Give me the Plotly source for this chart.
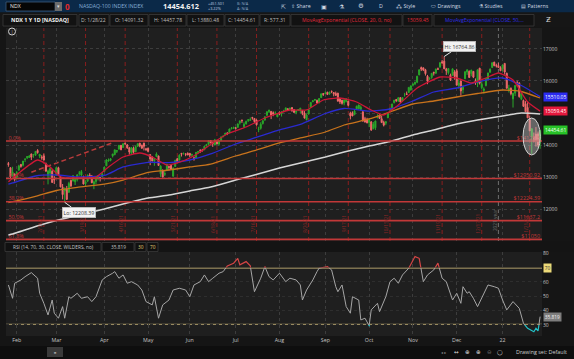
import plotly.graph_objects as go
import pandas as pd

W, H = 574, 359
FONT = "Open Sans"

# ---------------- data ----------------
holidays = ["2021-02-15", "2021-04-02", "2021-05-31", "2021-07-05", "2021-09-06",
            "2021-11-25", "2021-12-24", "2022-01-17"]
dates = [d.strftime("%Y-%m-%d") for d in pd.bdate_range("2021-01-26", "2022-01-28")
         if d.strftime("%Y-%m-%d") not in holidays]

opens = [
    13420, 13290, 13040, 13090,
    12980, 13220, 13390, 13370, 13550, 13600, 13610, 13720, 13700, 13680, 13830, 13650, 13620, 13660, 13410, 13040, 13120, 13180, 12950,
    13060, 13290, 13010, 12680, 12560, 12620, 12520, 12890, 12880, 12850, 12920, 13120, 13060, 13020, 12790, 12870, 13060, 13030, 12780, 12860, 12960, 12980, 13010,
    13170, 13350, 13500, 13520, 13660, 13700, 13800, 13870, 13990, 13920, 14060, 14000, 13910, 13740, 13900, 13790, 13960, 14060, 13990, 14060, 13880,
    13900, 13700, 13620, 13500, 13640, 13660, 13100, 13190, 13080, 13200, 13330, 13360, 13030, 13330, 13570, 13530, 13740, 13730, 13720, 13740,
    13740, 13680, 13600, 13600, 13760, 13830, 13840, 13850, 13980, 14030, 14140, 14080, 14000, 14100, 14030, 14140, 14260, 14320, 14380, 14380, 14510, 14520,
    14540, 14550, 14690, 14780, 14570, 14660, 14770, 14770, 14860, 14830, 14780, 14490, 14520, 14670, 14780, 14930, 15040, 15050, 15010, 14990, 14880,
    15020, 14980, 15040, 15080, 15130, 15120, 15170, 15110, 15020, 15090, 15080, 15080, 15000, 14790, 14970, 15170, 15350, 15400, 15390, 15320, 15480, 15610,
    15610, 15650, 15590, 15680, 15640, 15610, 15620, 15450, 15400, 15310, 15360, 15370, 14990, 15010, 14950, 15130, 15130, 15110, 15040, 14820, 14800,
    14700, 14720, 14510, 14540, 14850, 14940, 14820, 14710, 14680, 14850, 15100, 15110, 15320, 15420, 15370, 15480, 15380, 15560, 15600, 15640, 15720,
    15870, 15910, 15960, 16190, 16420, 16410, 16350, 16150, 16060, 16110, 16270, 16240, 16380, 16440, 16600, 16620, 16370, 16260, 16180, 16180, 16280,
    16320, 15860, 16000, 15730, 16070, 16280, 16300, 16230, 16300, 15990, 15930, 16400, 15790, 15700, 15860, 16060, 16270, 16420, 16590, 16480, 16480, 16420,
    16380, 16550, 16240, 15720, 15770, 15440, 15620, 15950, 15940, 15430, 15390, 15290, 15170, 14790, 14260, 14260, 14340, 14350, 14091.32,
]
highs = [
    13470, 13300, 13320, 13110,
    13190, 13380, 13410, 13500, 13580, 13650, 13690, 13730, 13720, 13810, 13870, 13720, 13680, 13730, 13450, 13230, 13280, 13240, 13030,
    13300, 13320, 13040, 12780, 12670, 12720, 12850, 12920, 13060, 12940, 13070, 13190, 13220, 13040, 12900, 13080, 13120, 13060, 12890, 13010, 13060, 13000, 13150,
    13320, 13560, 13580, 13590, 13720, 13850, 13840, 14000, 14000, 14050, 14070, 14030, 13940, 13930, 13950, 13990, 14050, 14060, 14010, 14070, 13910,
    13920, 13700, 13650, 13590, 13770, 13660, 13370, 13240, 13190, 13410, 13340, 13390, 13300, 13540, 13600, 13710, 13750, 13760, 13740, 13770,
    13750, 13730, 13640, 13780, 13810, 13870, 13880, 13970, 14030, 14140, 14140, 14100, 14190, 14140, 14140, 14270, 14310, 14380, 14390, 14510, 14560, 14570,
    14560, 14670, 14770, 14790, 14710, 14760, 14800, 14860, 14880, 14840, 14800, 14570, 14710, 14770, 14900, 15050, 15100, 15060, 15050, 15050, 14990,
    15050, 15040, 15100, 15160, 15150, 15160, 15180, 15120, 15080, 15120, 15160, 15090, 15060, 14980, 15120, 15340, 15400, 15440, 15420, 15470, 15610, 15620,
    15680, 15660, 15670, 15700, 15650, 15670, 15630, 15460, 15410, 15420, 15460, 15380, 15040, 15050, 15120, 15230, 15260, 15240, 15050, 14880, 14850,
    14800, 14750, 14720, 14760, 14960, 14950, 14910, 14760, 14740, 15010, 15160, 15290, 15410, 15440, 15480, 15490, 15490, 15630, 15670, 15800, 15850,
    15930, 15980, 16160, 16360, 16450, 16420, 16380, 16190, 16120, 16250, 16290, 16390, 16420, 16590, 16660, 16764.86, 16410, 16400, 16230, 16390, 16340,
    16380, 16060, 16020, 15870, 16300, 16360, 16330, 16350, 16310, 16080, 16360, 16410, 16000, 15800, 16090, 16260, 16390, 16580, 16600, 16540, 16560, 16460,
    16510, 16550, 16260, 15880, 15800, 15630, 15870, 16010, 15960, 15630, 15420, 15370, 15370, 14920, 14520, 14390, 14560, 14420, 14457.78,
]
lows = [
    13320, 12960, 13020, 12860,
    12940, 13190, 13290, 13330, 13470, 13560, 13600, 13530, 13600, 13660, 13730, 13590, 13540, 13520, 13170, 12770, 13000, 12820, 12780,
    13040, 13050, 12680, 12300, 12208.39, 12290, 12510, 12690, 12860, 12750, 12860, 13040, 12950, 12770, 12700, 12840, 12950, 12810, 12620, 12780, 12890, 12860, 13000,
    13160, 13340, 13480, 13490, 13610, 13680, 13750, 13860, 13840, 13910, 13990, 13880, 13700, 13730, 13720, 13780, 13940, 13930, 13880, 13830, 13810,
    13770, 13370, 13490, 13350, 13620, 13350, 13000, 12990, 13030, 13190, 13200, 13230, 12990, 13320, 13440, 13520, 13640, 13700, 13650, 13680,
    13620, 13630, 13510, 13600, 13720, 13750, 13800, 13840, 13950, 13990, 14050, 13940, 13990, 14020, 13980, 14120, 14240, 14310, 14310, 14370, 14490, 14500,
    14480, 14550, 14640, 14690, 14530, 14640, 14720, 14760, 14790, 14680, 14610, 14400, 14480, 14640, 14760, 14910, 15000, 14810, 14900, 14960, 14870,
    14930, 14890, 15030, 15060, 15060, 15090, 15040, 15000, 14960, 15060, 14990, 14930, 14830, 14770, 14960, 15170, 15340, 15380, 15300, 15300, 15480, 15530,
    15590, 15560, 15570, 15620, 15520, 15540, 15360, 15280, 15260, 15240, 15330, 15210, 14800, 14900, 14930, 15110, 15120, 15080, 14730, 14700, 14680,
    14560, 14440, 14490, 14470, 14840, 14820, 14700, 14580, 14620, 14840, 15060, 15100, 15300, 15340, 15360, 15320, 15360, 15510, 15570, 15640, 15700,
    15830, 15870, 15930, 16180, 16310, 16310, 16170, 15900, 16040, 16070, 16170, 16230, 16350, 16410, 16540, 16370, 16190, 16200, 16000, 16170, 16040,
    15860, 15760, 15540, 15610, 16060, 16190, 16100, 16150, 16090, 15880, 15810, 15890, 15740, 15610, 15830, 16030, 16270, 16410, 16460, 16420, 16410, 16310,
    16300, 16200, 15770, 15640, 15550, 15170, 15530, 15830, 15480, 15400, 15190, 15030, 14840, 14430, 13720, 14080, 13950, 13930, 13880.48,
]
closes = [
    13390, 13010, 13160, 12925,
    13140, 13340, 13330, 13500, 13560, 13640, 13650, 13620, 13700, 13800, 13760, 13710, 13600, 13530, 13180, 13190, 13270, 12830, 12910,
    13300, 13060, 12690, 12450, 12650, 12300, 12800, 12720, 13040, 12920, 13070, 13120, 13170, 12780, 12850, 13050, 12990, 12820, 12850, 12990, 13040, 12980, 13090,
    13310, 13530, 13530, 13570, 13720, 13850, 13830, 13990, 13850, 14040, 14040, 13910, 13780, 13920, 13770, 13950, 14040, 13970, 13900, 13960, 13860,
    13800, 13560, 13500, 13580, 13720, 13360, 13340, 13000, 13110, 13400, 13300, 13240, 13280, 13520, 13470, 13680, 13710, 13740, 13710, 13690,
    13680, 13700, 13560, 13770, 13800, 13820, 13820, 13960, 14020, 14140, 14070, 14040, 14160, 14030, 14140, 14250, 14270, 14370, 14360, 14500, 14530, 14550,
    14520, 14660, 14750, 14760, 14650, 14740, 14790, 14790, 14840, 14730, 14630, 14500, 14650, 14760, 14880, 15040, 15090, 14930, 14970, 15000, 14960,
    14960, 15040, 15070, 15160, 15100, 15150, 15070, 15020, 15070, 15110, 15150, 14990, 14840, 14940, 15110, 15330, 15380, 15420, 15310, 15450, 15600, 15580,
    15620, 15580, 15650, 15670, 15600, 15550, 15370, 15350, 15300, 15410, 15440, 15240, 14910, 14910, 15060, 15210, 15250, 15180, 14750, 14720, 14690,
    14790, 14470, 14650, 14750, 14890, 14830, 14700, 14620, 14730, 15000, 15150, 15280, 15400, 15390, 15480, 15340, 15480, 15560, 15580, 15800, 15850,
    15900, 15960, 16150, 16350, 16370, 16340, 16230, 15990, 16070, 16240, 16250, 16370, 16370, 16570, 16570, 16380, 16320, 16390, 16030, 16380, 16140,
    15870, 15940, 15690, 15810, 16290, 16350, 16110, 16340, 16120, 15960, 16350, 15930, 15900, 15750, 16080, 16250, 16370, 16570, 16480, 16470, 16420, 16320,
    16500, 16280, 15770, 15770, 15600, 15620, 15860, 15910, 15510, 15610, 15210, 15040, 14850, 14440, 14510, 14110, 14130, 14000, 14454.61,
]
assert len(dates) == len(opens) == len(highs) == len(lows) == len(closes)

# moving averages
ma_dates = ["2021-01-26", "2021-01-28", "2021-02-12", "2021-03-01", "2021-03-15", "2021-04-01", "2021-04-15",
            "2021-05-03", "2021-05-17", "2021-06-01", "2021-06-15", "2021-07-01", "2021-07-15", "2021-08-02",
            "2021-08-16", "2021-09-01", "2021-09-15", "2021-10-01", "2021-10-15", "2021-11-01", "2021-11-15",
            "2021-12-01", "2021-12-15", "2022-01-03", "2022-01-14", "2022-01-28"]
ema50 = [12780, 12813, 13031, 13063, 13000, 13047, 13313, 13459, 13447, 13531, 13719, 14031, 14219, 14469,
         14641, 14984, 15141, 15056, 15125, 15375, 15656, 15781, 15975, 16094, 15859, 15510.05]
ema100 = [12200, 12228, 12397, 12578, 12678, 12775, 12906, 13144, 13219, 13313, 13406, 13656, 13822, 14063,
          14219, 14406, 14625, 14813, 15031, 15281, 15375, 15500, 15609, 15719, 15672, 15469]
ema200 = [11190, 11219, 11453, 11641, 11797, 12000, 12156, 12344, 12438, 12563, 12688, 12906, 13063, 13281,
          13438, 13625, 13781, 13969, 14109, 14313, 14469, 14656, 14781, 14906, 15000, 14969]
ema20_dates = ["2021-01-26", "2021-01-28", "2021-02-02", "2021-02-16", "2021-02-24", "2021-03-03", "2021-03-12",
               "2021-03-26", "2021-04-06", "2021-04-15", "2021-04-27", "2021-05-05", "2021-05-14", "2021-05-21",
               "2021-06-01", "2021-06-08", "2021-06-16", "2021-06-28", "2021-07-09", "2021-07-22", "2021-08-09",
               "2021-08-19", "2021-08-31", "2021-09-13", "2021-09-23", "2021-10-04", "2021-10-12", "2021-10-21",
               "2021-11-03", "2021-11-18", "2021-12-01", "2021-12-10", "2021-12-21", "2021-12-30", "2022-01-10",
               "2022-01-20", "2022-01-28"]
ema20 = [12850, 12950, 13125, 13531, 13313, 13000, 12969, 13000, 13313, 13625, 13750, 13625, 13375, 13438,
         13594, 13781, 14063, 14375, 14563, 14844, 15094, 15094, 15406, 15469, 15344, 15094, 14938, 15250,
         15781, 16125, 16094, 15938, 16094, 16250, 16031, 15344, 15059.45]

rsi_dates = [
    "2021-01-26", "2021-01-28", "2021-01-29", "2021-02-03", "2021-02-05", "2021-02-10", "2021-02-16", "2021-02-17",
    "2021-02-19", "2021-02-23", "2021-02-25", "2021-02-26", "2021-03-02", "2021-03-04", "2021-03-05", "2021-03-09",
    "2021-03-10", "2021-03-15", "2021-03-17", "2021-03-22", "2021-03-24", "2021-03-26", "2021-03-31", "2021-04-05",
    "2021-04-08", "2021-04-09", "2021-04-13", "2021-04-15", "2021-04-19", "2021-04-21", "2021-04-26", "2021-04-28",
    "2021-04-30", "2021-05-05", "2021-05-06", "2021-05-10", "2021-05-12", "2021-05-17", "2021-05-19", "2021-05-24",
    "2021-05-27", "2021-06-01", "2021-06-03", "2021-06-08", "2021-06-10", "2021-06-14", "2021-06-16", "2021-06-21",
    "2021-06-23", "2021-06-25", "2021-06-30", "2021-07-02", "2021-07-06", "2021-07-09", "2021-07-13", "2021-07-15",
    "2021-07-20", "2021-07-22", "2021-07-26", "2021-07-28", "2021-08-02", "2021-08-05", "2021-08-09", "2021-08-12",
    "2021-08-16", "2021-08-17", "2021-08-19", "2021-08-24", "2021-08-26", "2021-08-27", "2021-09-02", "2021-09-07",
    "2021-09-09", "2021-09-10", "2021-09-14", "2021-09-16", "2021-09-20", "2021-09-21", "2021-09-24", "2021-09-27",
    "2021-09-29", "2021-10-01", "2021-10-04", "2021-10-07", "2021-10-08", "2021-10-13", "2021-10-15", "2021-10-19",
    "2021-10-21", "2021-10-25", "2021-10-28", "2021-11-02", "2021-11-04", "2021-11-08", "2021-11-10", "2021-11-15",
    "2021-11-17", "2021-11-19", "2021-11-23", "2021-11-29", "2021-12-01", "2021-12-03", "2021-12-06", "2021-12-08",
    "2021-12-09", "2021-12-13", "2021-12-15", "2021-12-20", "2021-12-22", "2021-12-28", "2021-12-30", "2022-01-03",
    "2022-01-05", "2022-01-10", "2022-01-13", "2022-01-18", "2022-01-20", "2022-01-25", "2022-01-26", "2022-01-27",
    "2022-01-28"]
rsi_vals = [
    57.9, 48.6, 59.1, 61.4, 63.7, 66.5, 62.6, 52.1,
    45.1, 37.0, 47.4, 38.2, 34.7, 42.8, 34.7, 49.7,
    48.6, 52.1, 48.6, 49.7, 46.3, 49.7, 61.4, 63.7,
    66.1, 67.2, 62.6, 64.9, 59.1, 60.2, 57.9, 54.4,
    46.3, 44.0, 49.7, 34.7, 44.0, 47.4, 54.4, 55.6,
    54.4, 49.7, 57.9, 60.2, 64.9, 60.2, 62.6, 66.1,
    67.2, 71.2, 73.1, 76.5, 71.9, 74.2, 71.2, 53.2,
    62.6, 70.7, 63.7, 61.4, 66.1, 60.2, 62.6, 61.4,
    57.9, 47.4, 54.4, 61.4, 67.2, 69.6, 70.7, 68.4,
    56.7, 53.2, 57.9, 42.8, 38.2, 49.7, 47.4, 33.5,
    34.7, 29.5, 40.5, 45.1, 39.3, 49.7, 60.2, 62.6,
    59.1, 64.9, 69.6, 77.7, 76.5, 60.2, 64.9, 68.4,
    73.1, 62.6, 60.2, 47.4, 52.1, 45.1, 56.7, 52.1,
    53.2, 48.6, 42.8, 52.1, 57.9, 56.7, 55.6, 47.4,
    40.5, 46.3, 41.6, 31.2, 27.7, 25.3, 27.7, 25.8,
    35.819]
assert len(rsi_dates) == len(rsi_vals)

fib_levels = [14125.3, 12950.92, 12224.39, 11637.2, 11050]
fib_pcts = ["0.0%", "23.6%", "38.2%", "50.0%", "61.8%"]
fib_tags = ["$14125.3", "$12950.92", "$12224.39", "$11637.2", "$11050"]

expiry_dates = ["2021-02-19", "2021-03-19", "2021-04-16", "2021-05-21", "2021-06-18", "2021-07-16",
                "2021-08-20", "2021-09-17", "2021-10-15", "2021-11-19", "2021-12-17", "2022-01-21"]
expiry_labels = ["2/19/21", "3/19/21", "4/16/21", "5/21/21", "6/18/21", "7/16/21",
                 "8/20/21", "9/17/21", "10/15/21", "11/19/21", "12/17/21", "1/21/22"]

month_ticks = ["2021-02-01", "2021-03-01", "2021-04-01", "2021-05-03", "2021-06-01", "2021-07-01",
               "2021-08-02", "2021-09-01", "2021-10-01", "2021-11-01", "2021-12-01", "2022-01-03"]
month_text = ["Feb", "Mar", "Apr", "May", "Jun", "Jul", "Aug", "Sep", "Oct", "Nov", "Dec", "22"]

# 15000 sits behind the price bubbles in the original, so its label is left blank
price_ticks = [12000, 13000, 14000, 15000, 16000, 17000]
price_tick_text = ["12000", "13000", "14000", "", "16000", "17000"]
rsi_ticks = [30, 40, 50, 60, 80]
rsi_tick_text = ["30", "40", "50", "60", "80"]

# ---------------- layout geometry ----------------
def PX(x):
    return x / W


def PY(y):
    return 1 - y / H


XD = [PX(6), PX(542)]
YD_MAIN = [PY(241), PY(28)]
YD_RSI = [PY(336), PY(252)]
R0, R1 = 22.3, 80.9


def rsi_dom(v):
    return YD_RSI[0] + (v - R0) / (R1 - R0) * (YD_RSI[1] - YD_RSI[0])


BG = "#1f1f1f"
PAPER = "#151515"
GRID = "#3d3d3d"
FIBC = "#c23838"

fig = go.Figure()

# fib labels (behind candles)
fig.add_trace(go.Scatter(x=[dates[0]] * 5, y=fib_levels, mode="text", text=fib_pcts,
                         textposition="top right", textfont=dict(size=5.5, color=FIBC, family=FONT),
                         hoverinfo="skip", xaxis="x", yaxis="y"))
fig.add_trace(go.Scatter(x=[dates[-1]] * 5, y=fib_levels, mode="text", text=fib_tags,
                         textposition="top left", textfont=dict(size=5.5, color=FIBC, family=FONT),
                         hoverinfo="skip", xaxis="x", yaxis="y"))

fig.add_trace(go.Candlestick(
    x=dates, open=opens, high=highs, low=lows, close=closes,
    increasing=dict(line=dict(color="#2aa82a", width=1), fillcolor="#2aa82a"),
    decreasing=dict(line=dict(color="#f06a6a", width=1), fillcolor="#f06a6a"),
    whiskerwidth=0, xaxis="x", yaxis="y", hoverinfo="skip"))

for xs, ys, col, w in [(ma_dates, ema200, "#d6d6d6", 1.5), (ma_dates, ema100, "#c8731c", 1.3),
                       (ma_dates, ema50, "#2a2ad0", 1.3), (ema20_dates, ema20, "#cc1636", 1.3)]:
    fig.add_trace(go.Scatter(x=xs, y=ys, mode="lines", line=dict(color=col, width=w, shape="spline", smoothing=0.5),
                             hoverinfo="skip", xaxis="x", yaxis="y"))

# RSI: gray base, red above 70, cyan below 30 (clipped by overlay axes)
fig.add_trace(go.Scatter(x=rsi_dates, y=rsi_vals, mode="lines", line=dict(color="#a6a6a6", width=1),
                         hoverinfo="skip", xaxis="x", yaxis="y2"))
fig.add_trace(go.Scatter(x=rsi_dates, y=rsi_vals, mode="lines", line=dict(color="#d44545", width=1.2),
                         hoverinfo="skip", xaxis="x", yaxis="y3"))
fig.add_trace(go.Scatter(x=rsi_dates, y=rsi_vals, mode="lines", line=dict(color="#22c2c8", width=1.2),
                         hoverinfo="skip", xaxis="x", yaxis="y4"))

shapes = []
ann = []


def rect(x0, y0, x1, y1, fill, line=None, lw=0.8, layer="below"):
    shapes.append(dict(type="rect", xref="paper", yref="paper", x0=PX(x0), x1=PX(x1), y0=PY(y1), y1=PY(y0),
                       fillcolor=fill, line=dict(color=line or fill, width=lw if line else 0), layer=layer))


def txt(x, y, s, size=5.5, color="#c8c8c8", anchor="left", family=FONT, bg=None, border=None, pad=0):
    d = dict(x=PX(x), y=PY(y), xref="paper", yref="paper", text=s, showarrow=False, xanchor=anchor,
             yanchor="middle", font=dict(size=size, color=color, family=family), borderpad=pad)
    if bg:
        d["bgcolor"] = bg
    if border:
        d["bordercolor"] = border
        d["borderwidth"] = 0.6
    ann.append(d)


# ---- header row 1 ----
rect(0, 0, 574, 12.5, "#0b2948")
rect(6, 2, 55, 11, "#060606", "#3d5c7c")
txt(9, 6.5, "NDX", 5.2, "#e8e8e8")
rect(55, 2, 62, 11, "#6b6b6b")
txt(58.5, 6.5, "▾", 5, "#dddddd", "center", "DejaVu Sans")
txt(64, 6.5, "<b>0</b>", 8, "#e22a2a")
txt(78, 6.5, "NASDAQ-100 INDEX INDEX", 5.2, "#86afd6")
txt(162, 6.5, "<b>14454.612</b>", 7.4, "#f2f2f2")
txt(207, 3.8, "+451.501", 3.8, "#c5d5e5")
txt(207, 8.8, "+3.22%", 3.8, "#c5d5e5")
txt(236, 3.8, "B: N/A", 3.8, "#8fa8c0")
txt(236, 8.8, "A: N/A", 3.8, "#8fa8c0")
txt(283, 6.5, "⇱", 6, "#d0d8e0", "center", "DejaVu Sans")
txt(290, 6.5, "⇧ Share", 5.3, "#d0d8e0")
txt(324, 6.5, "▣", 6, "#d0d8e0", "center", "DejaVu Sans")
txt(342, 6.5, "⚗", 6, "#d0d8e0", "center", "DejaVu Sans")
txt(361, 6.5, "⚙", 6.5, "#d0d8e0", "center", "DejaVu Sans")
txt(381, 6.5, "D", 5.3, "#d0d8e0", "center")
txt(395, 6.5, "⁂ Style", 5.3, "#d0d8e0")
txt(430, 6.5, "⬭ Drawings", 5.3, "#d0d8e0")
txt(478, 6.5, "⚗ Studies", 5.3, "#d0d8e0")
txt(520, 6.5, "▤ Patterns", 5.3, "#d0d8e0")

# ---- header row 2 ----
rect(0, 12.5, 574, 27.5, "#161616")
boxes = [(3, 77, "<b>NDX 1 Y 1D [NASDAQ]</b>", "#f4f4f4"), (79, 109, "D: 1/28/22", "#bdbdbd"),
         (110, 148, "O: 14091.32", "#bdbdbd"), (149, 186, "H: 14457.78", "#bdbdbd"),
         (187, 224, "L: 13880.48", "#bdbdbd"), (225, 259, "C: 14454.61", "#bdbdbd"),
         (260, 290, "R: 577.31", "#bdbdbd"), (291, 402, "MovAvgExponential (CLOSE, 20, 0, no)", "#e02a3c"),
         (403, 432, "15059.45", "#e02a3c"), (434, 534, "MovAvgExponential (CLOSE, 50,...", "#3030e8")]
for x0, x1, s, c in boxes:
    rect(x0, 14.5, x1, 26, "#121212", "#3a3a3a")
    txt((x0 + x1) / 2, 20.3, s, 5.1 if "NDX" not in s else 5.4, c, "center")
txt(548, 20.3, "Ƶ", 7, "#d8d8d8", "center", "DejaVu Sans")

# ---- RSI header ----
rect(0, 241, 574, 252, "#141414")
for x0, x1, s, c in [(5, 101, "RSI (14, 70, 30, CLOSE, WILDERS, no)", "#c4c4c4"), (102, 134, "35.819", "#c4c4c4"),
                     (135, 146, "30", "#e4d070"), (147, 158, "70", "#e4d070")]:
    rect(x0, 242.5, x1, 251.5, "#111111", "#3a3a3a")
    txt((x0 + x1) / 2, 247.2, s, 4.8, c, "center")

# ---- bottom bar ----
rect(0, 346, 574, 359, "#0e0e0e")
rect(47, 347, 63, 357, "#3a3a3a")
txt(55, 352, "⌅", 5, "#dddddd", "center", "DejaVu Sans")
txt(443, 352, "◂ ▸", 4, "#888888", "center", "DejaVu Sans")
txt(456, 352, "↔", 5.5, "#dcdcdc", "center", "DejaVu Sans")
txt(467, 352, "⊕", 5.5, "#dcdcdc", "center", "DejaVu Sans")
txt(478, 352, "⊕", 5.5, "#dcdcdc", "center", "DejaVu Sans")
txt(489, 352, "⊖", 5.5, "#666666", "center", "DejaVu Sans")
txt(500, 352, "◯", 5, "#dcdcdc", "center", "DejaVu Sans")
txt(568, 352, "Drawing set: Default", 5.4, "#cfcfcf", "right")

# ---- main panel drawings ----
shapes.append(dict(type="circle", xref="paper", yref="paper", x0=PX(8.5), x1=PX(15.5), y0=PY(35), y1=PY(28),
                   line=dict(color="#d0d0d0", width=1), layer="above"))
txt(12, 31.5, "|", 4, "#d0d0d0", "center")

for d, lab in zip(expiry_dates, expiry_labels):
    shapes.append(dict(type="line", xref="x", yref="y domain", x0=d, x1=d, y0=0, y1=1,
                       line=dict(color="#8a1e1e", width=1, dash="4px,3px"), layer="below"))
    ann.append(dict(x=d, y=0.08, xref="x", yref="y domain", text=lab, showarrow=False, textangle=-90,
                    xanchor="center", yanchor="middle", xshift=-4,
                    font=dict(size=4.8, color="#8a2626", family=FONT)))
shapes.append(dict(type="line", xref="x", yref="y domain", x0="2021-12-30", x1="2021-12-30", y0=0, y1=1,
                   line=dict(color="#6e6e6e", width=1, dash="4px,3px"), layer="below"))
ann.append(dict(x="2021-12-30", y=0.1, xref="x", yref="y domain", text="2021 year", showarrow=False, textangle=-90,
                xanchor="center", yanchor="middle", xshift=-4, font=dict(size=4.8, color="#6e6e6e", family=FONT)))

# drawn trend line
shapes.append(dict(type="line", xref="x", yref="y", x0="2021-02-10", y0=13150, x1="2021-04-08", y1=14070,
                   line=dict(color="#b83c3c", width=1.5, dash="5px,3px"), layer="below"))

# fibonacci levels
for lv in fib_levels:
    shapes.append(dict(type="line", xref="paper", yref="y", x0=XD[0], x1=XD[1], y0=lv, y1=lv,
                       line=dict(color=FIBC, width=1.6), layer="above"))

# highlight ellipse around the last candles
i0 = dates.index("2022-01-18")
i1 = dates.index("2022-01-28")
shapes.append(dict(type="circle", xref="x", yref="y", x0=i0 - 0.2, x1=i1 + 0.1, y0=13688, y1=14844,
                   fillcolor="rgba(195,195,195,0.42)", line=dict(color="#d4d4d4", width=1), layer="above"))

# Hi / Lo bubbles
ann.append(dict(x="2021-11-22", y=16764.86, xref="x", yref="y", text="Hi: 16764.86", showarrow=True,
                arrowhead=0, arrowwidth=1, arrowcolor="#e6e6e6", ax=15, ay=-10,
                bgcolor="#f2f2f2", bordercolor="#bdbdbd", borderwidth=0.6, borderpad=1,
                font=dict(size=5.2, color="#333333", family=FONT)))
ann.append(dict(x="2021-03-05", y=12208.39, xref="x", yref="y", text="Lo: 12208.39", showarrow=True,
                arrowhead=0, arrowwidth=1, arrowcolor="#e6e6e6", ax=14, ay=10,
                bgcolor="#f2f2f2", bordercolor="#bdbdbd", borderwidth=0.6, borderpad=1,
                font=dict(size=5.2, color="#333333", family=FONT)))

# price bubbles on the right axis
for val, s, bg, fc in [(15510.05, "15510.05", "#2b2bf0", "#ffffff"), (15059.45, "15059.45", "#e4183c", "#ffffff"),
                       (14454.61, "14454.61", "#27c227", "#f4fff4")]:
    ann.append(dict(x=PX(543), y=val, xref="paper", yref="y", text=s, showarrow=False, xanchor="left",
                    yanchor="middle", bgcolor=bg, borderpad=1, font=dict(size=5, color=fc, family=FONT)))

# RSI levels and bubbles
for lv in (70, 30):
    shapes.append(dict(type="line", xref="paper", yref="y2", x0=XD[0], x1=XD[1], y0=lv, y1=lv,
                       line=dict(color="#9e8f62", width=2.2), layer="below"))
ann.append(dict(x=PX(543), y=70, xref="paper", yref="y2", text="70", showarrow=False, xanchor="left",
                yanchor="middle", bgcolor="#ecd979", borderpad=0.8, font=dict(size=4.8, color="#333333", family=FONT)))
ann.append(dict(x=PX(543), y=35.819, xref="paper", yref="y2", text="35.819", showarrow=False, xanchor="left",
                yanchor="middle", bgcolor="#7d7d7d", borderpad=0.8, font=dict(size=4.8, color="#f2f2f2", family=FONT)))

fig.update_layout(
    width=W, height=H, margin=dict(l=0, r=0, t=0, b=0, pad=0), showlegend=False, autosize=False,
    paper_bgcolor=PAPER, plot_bgcolor=BG, font=dict(family=FONT, color="#c8c8c8"),
    shapes=shapes, annotations=ann, hovermode=False,
    xaxis=dict(domain=XD, type="category", categoryorder="array", categoryarray=dates,
               range=[-1.15, len(dates) - 0.1], anchor="y2", rangeslider=dict(visible=False),
               tickmode="array", tickvals=month_ticks, ticktext=month_text, ticks="",
               tickfont=dict(size=5.3, color="#c4c4c4"), showgrid=True, gridcolor=GRID, griddash="dot",
               gridwidth=1, showline=False, zeroline=False, fixedrange=True, automargin=False),
    yaxis=dict(domain=YD_MAIN, range=[11000, 17656], anchor="x", side="right",
               tickmode="array", tickvals=price_ticks, ticktext=price_tick_text, ticks="",
               tickfont=dict(size=5, color="#c4c4c4"), showgrid=True, gridcolor=GRID, griddash="dot",
               zeroline=False, showline=False, automargin=False),
    yaxis2=dict(domain=YD_RSI, range=[R0, R1], anchor="x", side="right",
                tickmode="array", tickvals=rsi_ticks, ticktext=rsi_tick_text, ticks="",
                tickfont=dict(size=5, color="#c4c4c4"),
                showgrid=True, gridcolor="#2e2e2e", griddash="dot", zeroline=False, showline=False,
                automargin=False),
    yaxis3=dict(domain=[rsi_dom(70), YD_RSI[1]], range=[70, R1], anchor="x", visible=False, showgrid=False),
    yaxis4=dict(domain=[YD_RSI[0], rsi_dom(30)], range=[R0, 30], anchor="x", visible=False, showgrid=False),
)

fig.write_html("out.html", config={"displayModeBar": False, "staticPlot": True},
               post_script="document.body.style.margin='0';document.body.style.padding='0';"
                           "document.body.style.overflow='hidden';document.body.style.background='#151515';")
